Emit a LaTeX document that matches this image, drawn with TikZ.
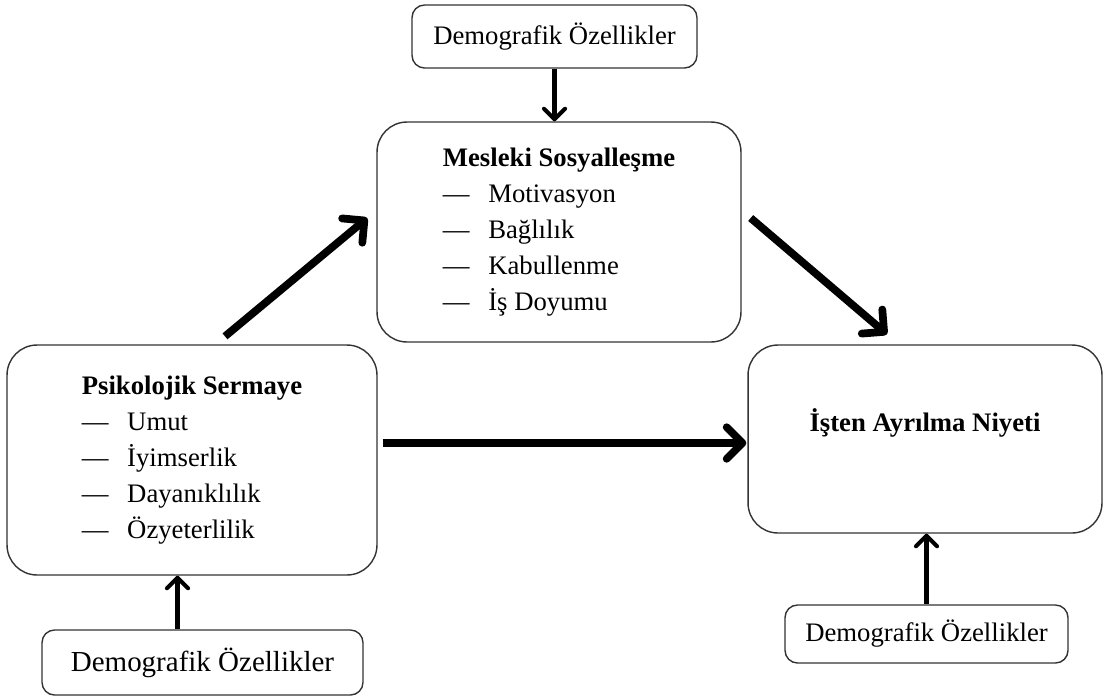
\documentclass[tikz,border=0pt]{standalone}
\usepackage{fontspec}
\setmainfont{Liberation Serif}
\usetikzlibrary{arrows.meta,positioning}

\begin{document}
\begin{tikzpicture}[x=0.02cm, y=-0.02cm,
	demo/.style={draw=black!80, line width=0.8pt, rounded corners=0.25cm, font=\fontsize{15.2}{20}\selectfont},
	bigbox/.style={draw=black!80, line width=0.8pt, rounded corners=0.6cm, align=left, font=\fontsize{15.2}{20.4}\selectfont},
	thinarr/.style={line width=2.3pt, -{Straight Barb[length=6pt, width=12pt, round]}},
	thickarr/.style={line width=4.4pt, -{Straight Barb[length=9pt, width=18pt, round]}}]

	\useasboundingbox (0, 0) rectangle (1104, 697);

	\node (mes) [bigbox, minimum width=7.28cm, minimum height=4.4cm] at (559, 232)
		{\textbf{Mesleki Sosyalleşme}\\
		 \textemdash\hspace{0.7em}Motivasyon\\
		 \textemdash\hspace{0.7em}Bağlılık\\
		 \textemdash\hspace{0.7em}Kabullenme\\
		 \textemdash\hspace{0.7em}İş Doyumu};
	\node (psy) [bigbox, minimum width=7.4cm, minimum height=4.6cm] at (192, 460)
		{\textbf{Psikolojik Sermaye}\\
		 \textemdash\hspace{0.7em}Umut\\
		 \textemdash\hspace{0.7em}İyimserlik\\
		 \textemdash\hspace{0.7em}Dayanıklılık\\
		 \textemdash\hspace{0.7em}Özyeterlilik};
	\node (ist) [bigbox, minimum width=7.08cm, minimum height=3.76cm, text height=13pt, text depth=21pt] at (925, 439)
		{\textbf{İşten Ayrılma Niyeti}};

	\node (demoT) [demo, minimum width=5.7cm, minimum height=1.26cm] at (554.5, 36.5) {Demografik Özellikler};
	\node (demoL) [demo, minimum width=6.42cm, minimum height=1.3cm, font=\fontsize{16.5}{20}\selectfont] at (202.5, 662.5) {Demografik Özellikler};
	\node (demoR) [demo, minimum width=5.66cm, minimum height=1.16cm] at (926.5, 634) {Demografik Özellikler};

	% main paths
	\draw [thickarr] ([shift={(33,-8)}]psy.north) -- ([shift={(-9,-14)}]mes.west);
	\draw [thickarr] ([shift={(9,-14)}]mes.east) -- ([shift={(-38,-10)}]ist.north);
	\draw [thickarr] ([shift={(5,-17)}]psy.east) -- ([shift={(-1,4)}]ist.west);

	% demographic effects
	\draw [thinarr] (demoT.south) -- (demoT.south |- mes.north);
	\draw [thinarr] ([shift={(-25,0)}]demoL.north) -- ([shift={(-25,0)}]demoL.north |- psy.south);
	\draw [thinarr] (demoR.north) -- (demoR.north |- ist.south);

\end{tikzpicture}
\end{document}
